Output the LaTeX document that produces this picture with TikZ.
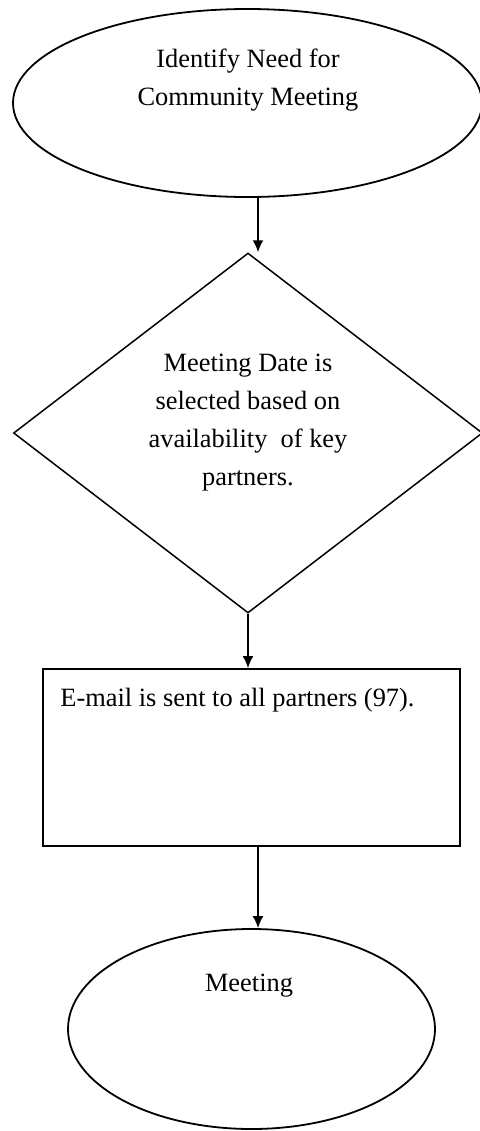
\documentclass[tikz,border=0pt]{standalone}
\usepackage{fontspec}
\setmainfont{Liberation Serif}
\usetikzlibrary{shapes.geometric,arrows.meta}

\begin{document}
\begin{tikzpicture}
[every node/.style={inner sep=0pt}, font=\fontsize{13.2}{19}\selectfont]
\useasboundingbox (0pt, 0pt) rectangle (240pt, -565.5pt);
\node (need) [ellipse, minimum width=234.5pt, minimum height=94pt, line width=0.9pt, draw=black] at (123.75pt, -51.5pt) {};
\node (date) [diamond, minimum width=234.5pt, minimum height=180pt, line width=0.75pt, draw=black] at (124pt, -216.5pt) {};
\node (email) [rectangle, minimum width=208.5pt, minimum height=88.5pt, line width=0.9pt, draw=black] at (125.75pt, -378.75pt) {};
\node (meeting) [ellipse, minimum width=183.5pt, minimum height=100pt, line width=0.9pt, draw=black] at (125.75pt, -514.5pt) {};
\node (needtext) [align=center] at (124pt, -40pt) {Identify Need for\\Community Meeting};
\node (datetext) [align=center] at (124pt, -211.25pt) {Meeting Date is\\selected based on\\availability\ \ of key\\partners.};
\node (emailtext) [anchor=base west] at (30pt, -353.3pt) {E-mail is sent to all partners (97).};
\node (meetingtext) [anchor=base] at (124.5pt, -495.8pt) {Meeting};
\draw [line width=0.9pt, -{Latex[length=6pt, width=5.5pt]}, color=black] ([xshift=5.25pt]need.south) to ([xshift=5.25pt]need.south |- date.north);
\draw [line width=0.9pt, -{Latex[length=6pt, width=5.5pt]}, color=black] (date.south) to (date.south |- email.north);
\draw [line width=0.9pt, -{Latex[length=6pt, width=5.5pt]}, color=black] ([xshift=3.25pt]email.south) to ([xshift=3.25pt]email.south |- meeting.north);
\end{tikzpicture}
\end{document}
